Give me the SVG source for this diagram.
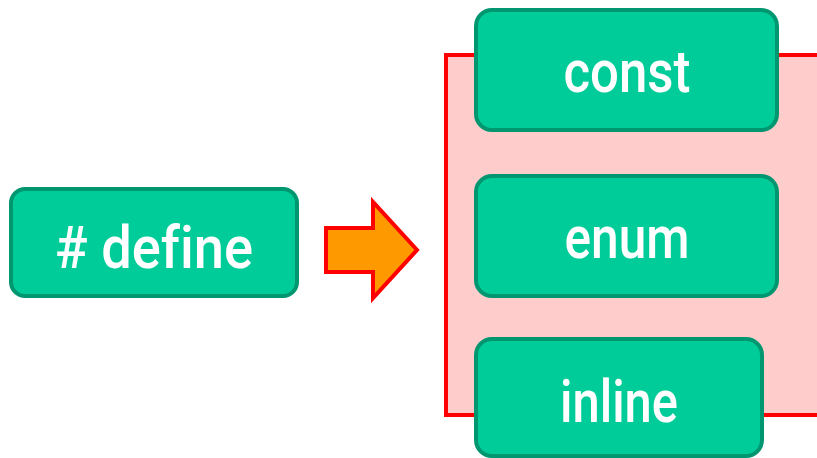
<svg xmlns="http://www.w3.org/2000/svg" width="817" height="458" viewBox="0 0 817 458">
<style>
.node rect{fill:#00CC99;stroke:#009670;stroke-width:4}
.node text{fill:#fff;font-family:Roboto,"Noto Sans",sans-serif;font-size:60px;font-weight:500;text-anchor:middle;font-variant-ligatures:none}
</style>
<rect width="817" height="458" fill="#fff"/>
<g id="group">
<rect x="446" y="55" width="380" height="360" fill="#FFCCCC" stroke="#FF0000" stroke-width="4"/>
</g>
<g id="connectors">
<polygon points="326,228 373,228 373,202 417,250 373,298 373,272 326,272" fill="#FF9900" stroke="#FF0000" stroke-width="4"/>
</g>
<g id="define" class="node">
<rect x="11" y="189" width="286" height="107" rx="14"/>
<text x="154" y="268" textLength="198" lengthAdjust="spacingAndGlyphs"># define</text>
</g>
<g id="const" class="node">
<rect x="476" y="10" width="301" height="120" rx="16"/>
<text x="627" y="92" textLength="127" lengthAdjust="spacingAndGlyphs">const</text>
</g>
<g id="enum" class="node">
<rect x="476" y="176" width="301" height="120" rx="16"/>
<text x="627" y="258" textLength="125" lengthAdjust="spacingAndGlyphs">enum</text>
</g>
<g id="inline" class="node">
<rect x="476" y="339" width="286" height="117" rx="16"/>
<text x="619" y="422" textLength="118" lengthAdjust="spacingAndGlyphs">inline</text>
</g>
</svg>
